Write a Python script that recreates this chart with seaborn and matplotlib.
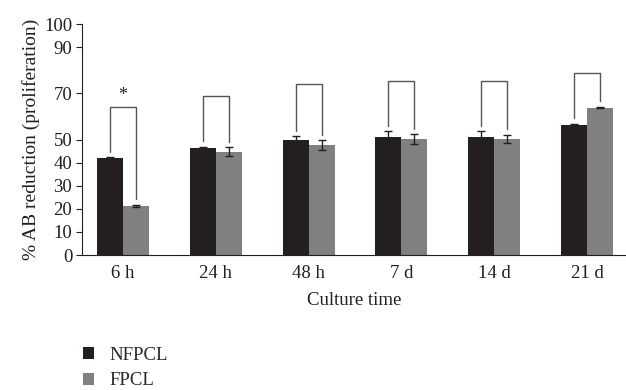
import matplotlib
matplotlib.use("Agg")
import pandas as pd
import matplotlib.pyplot as plt
import seaborn as sns
from matplotlib.patches import Patch

# valeurs
times = ["6 h", "24 h", "48 h", "7 d", "14 d", "21 d"]
groups = ["NFPCL", "FPCL"]
nfpcl = [42.0, 46.4, 49.9, 51.2, 51.2, 56.5]
fpcl = [21.2, 44.8, 47.7, 50.3, 50.3, 63.8]
nfpcl_err = [0.3, 0.5, 1.5, 2.4, 2.4, 0.3]
fpcl_err = [0.4, 1.8, 2.0, 2.0, 1.8, 0.3]
bracket_top = [64.0, 68.7, 74.2, 75.3, 75.3, 79.0]
bracket_text = ["*", "", "", "", "", ""]
yticks = [0, 10, 20, 30, 40, 50, 70, 90, 100]

colors = ["#231f20", "#808083"]

df = pd.DataFrame({
    "time": times * 2,
    "group": [groups[0]] * len(times) + [groups[1]] * len(times),
    "value": nfpcl + fpcl,
})

sns.set_style("ticks")
plt.rcParams["font.family"] = ["Liberation Serif", "DejaVu Serif"]

fig = plt.figure(figsize=(6.26, 3.9), dpi=100)
ax = fig.add_axes([0.131, 0.346, 0.869, 0.592])

sns.barplot(data=df, x="time", y="value", hue="group", order=times,
            hue_order=groups, palette=colors, width=0.56, gap=0,
            errorbar=None, legend=False, ax=ax, saturation=1, linewidth=0)

# barres d'erreur et crochets à partir des rectangles dessinés
bars = ax.patches
n = len(times)
for i in range(n):
    b1, b2 = bars[i], bars[n + i]
    x1 = b1.get_x() + b1.get_width() / 2
    x2 = b2.get_x() + b2.get_width() / 2
    ax.errorbar([x1, x2], [nfpcl[i], fpcl[i]], yerr=[nfpcl_err[i], fpcl_err[i]],
                fmt="none", ecolor="#231f20", elinewidth=1, capsize=3, capthick=1)
    low1 = nfpcl[i] + nfpcl_err[i] + 2.5
    low2 = fpcl[i] + fpcl_err[i] + 2.5
    ax.plot([x1, x1, x2, x2], [low1, bracket_top[i], bracket_top[i], low2],
            color="#555555", lw=1)
    if bracket_text[i]:
        ax.text((x1 + x2) / 2, bracket_top[i] + 1.5, bracket_text[i],
                ha="center", va="bottom", fontsize=13, color="#231f20")

ax.set_xlim(-0.44, n - 1 + 0.42)
ax.set_ylim(0, 100)
ax.set_yticks(yticks)
ax.tick_params(axis="y", labelsize=13.5, length=4, width=0.8, pad=3, colors="#231f20")
ax.tick_params(axis="x", labelsize=13.5, length=0, pad=7, colors="#231f20")
ax.set_xlabel("Culture time", fontsize=13.5, color="#231f20", labelpad=7)
ax.set_ylabel("% AB reduction (proliferation)", fontsize=14, color="#231f20", labelpad=3)
sns.despine(ax=ax)
ax.spines["left"].set_color("#231f20")
ax.spines["bottom"].set_color("#231f20")

handles = [Patch(facecolor=c, edgecolor="none") for c in colors]
fig.legend(handles, groups, loc="upper left", bbox_to_anchor=(0.118, 0.135),
           frameon=False, fontsize=13.5, handlelength=0.6, handleheight=0.6,
           handletextpad=0.8, labelspacing=0.45, borderpad=0)

fig.savefig("out.png", dpi=100)
